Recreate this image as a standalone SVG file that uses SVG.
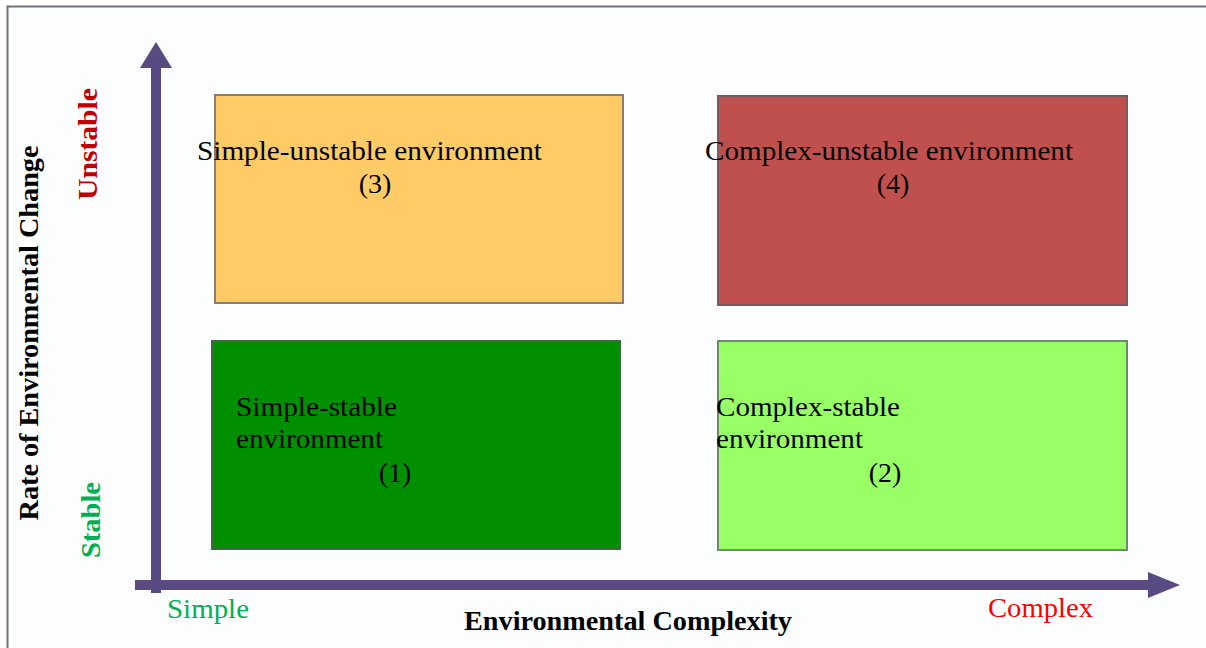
<svg xmlns="http://www.w3.org/2000/svg" width="1206" height="648" viewBox="0 0 1206 648">
<defs>
<style>
.lbl{font-family:"Liberation Serif","Times New Roman",serif;font-size:28px;fill:#000}
.bold{font-family:"Liberation Serif","Times New Roman",serif;font-weight:bold;font-size:28px}
.ax{font-family:"Liberation Serif","Times New Roman",serif;font-size:28px}
.box{stroke-width:2}
.axis{fill:#5a4a82}
</style>
</defs>
<rect x="0" y="0" width="1206" height="648" fill="#ffffff"/>
<rect x="7.5" y="6.5" width="1210" height="650" fill="#fbfdff" stroke="#6f7478" stroke-width="2"/>

<g id="connectors">
<rect class="axis" x="151" y="66" width="10" height="527"/>
<polygon class="axis" points="156,42 172,68 140,68"/>
<rect class="axis" x="135" y="580" width="1016" height="10"/>
<polygon class="axis" points="1180,585 1148,572 1148,598"/>
</g>

<g id="node-simple-unstable">
<rect class="box" x="215" y="95" width="408" height="208" fill="#fecb67" stroke="#8a7d6c"/>
<text class="lbl" x="197" y="160" textLength="345" lengthAdjust="spacingAndGlyphs">Simple-unstable environment</text>
<text class="lbl" x="375" y="193" text-anchor="middle">(3)</text>
</g>

<g id="node-complex-unstable">
<rect class="box" x="718" y="96" width="409" height="209" fill="#c0504d" stroke="#7a5a5e"/>
<text class="lbl" x="705" y="160" textLength="368" lengthAdjust="spacingAndGlyphs">Complex-unstable environment</text>
<text class="lbl" x="893" y="193" text-anchor="middle">(4)</text>
</g>

<g id="node-simple-stable">
<rect class="box" x="212" y="341" width="408" height="208" fill="#008f00" stroke="#3e6a3e"/>
<text class="lbl" x="236" y="416" textLength="161" lengthAdjust="spacingAndGlyphs">Simple-stable</text>
<text class="lbl" x="236" y="448" textLength="147" lengthAdjust="spacingAndGlyphs">environment</text>
<text class="lbl" x="395" y="482" text-anchor="middle">(1)</text>
</g>

<g id="node-complex-stable">
<rect class="box" x="718" y="341" width="409" height="209" fill="#99ff66" stroke="#6f8a6a"/>
<text class="lbl" x="716" y="416" textLength="184" lengthAdjust="spacingAndGlyphs">Complex-stable</text>
<text class="lbl" x="716" y="448" textLength="147" lengthAdjust="spacingAndGlyphs">environment</text>
<text class="lbl" x="885" y="482" text-anchor="middle">(2)</text>
</g>

<g id="axis-labels">
<text class="bold" transform="translate(38,333) rotate(-90)" text-anchor="middle" fill="#000" textLength="375" lengthAdjust="spacingAndGlyphs">Rate of Environmental Change</text>
<text class="bold" transform="translate(97,144) rotate(-90)" text-anchor="middle" fill="#c00000" textLength="112" lengthAdjust="spacingAndGlyphs">Unstable</text>
<text class="bold" transform="translate(100,520) rotate(-90)" text-anchor="middle" fill="#00b050" textLength="76" lengthAdjust="spacingAndGlyphs">Stable</text>
<text class="ax" x="167" y="618" fill="#00b050" textLength="82" lengthAdjust="spacingAndGlyphs">Simple</text>
<text class="ax" x="988" y="617" fill="#ff0000" textLength="105" lengthAdjust="spacingAndGlyphs">Complex</text>
<text class="bold" x="628" y="630" text-anchor="middle" fill="#000" textLength="328" lengthAdjust="spacingAndGlyphs">Environmental Complexity</text>
</g>
</svg>
